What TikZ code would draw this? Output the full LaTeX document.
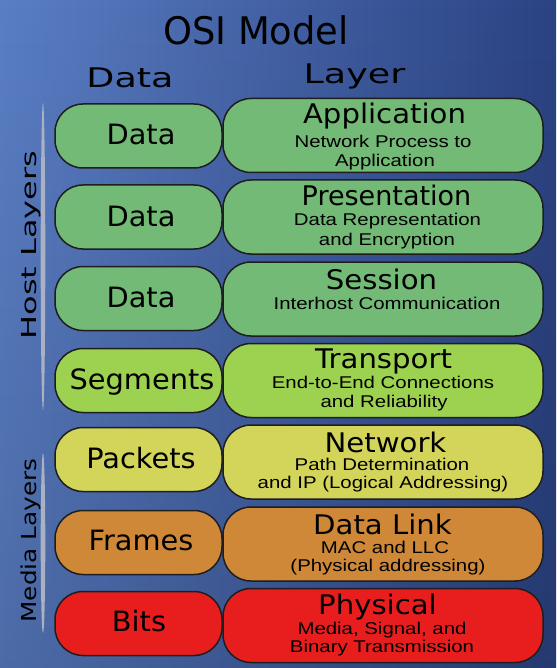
\documentclass[tikz,border=0pt]{standalone}
\usepackage{fontspec}
\setmainfont{DejaVu Sans}
\newfontfamily\titlefont[FakeStretch=0.97]{DejaVu Sans}
\newfontfamily\headfont[FakeStretch=1.35]{DejaVu Sans}
\newfontfamily\labelfont[FakeStretch=1.03]{DejaVu Sans}
\newfontfamily\layerfont[FakeStretch=1.08]{DejaVu Sans}
\newfontfamily\layerfontn{DejaVu Sans}
\newfontfamily\subfont[FakeStretch=1.2]{Liberation Sans}
\newfontfamily\hostfont[FakeStretch=1.55]{DejaVu Sans}
\newfontfamily\mediafont[FakeStretch=1.2]{DejaVu Sans}
\usetikzlibrary{fadings}
\definecolor{bgL}{HTML}{5A7EC4}
\definecolor{bgR}{HTML}{2B4383}
\definecolor{cgreen}{HTML}{72BA76}
\definecolor{ctrans}{HTML}{9DD150}
\definecolor{cnet}{HTML}{D3D45A}
\definecolor{clink}{HTML}{CF8838}
\definecolor{cphys}{HTML}{E81E1E}
\definecolor{cbar}{HTML}{A9B1C2}
\definecolor{cline}{HTML}{1E1E1E}
\tikzset{
  databox/.style={draw=cline, line width=1.5pt, rounded corners=28pt, minimum width=167pt, minimum height=64pt, inner sep=0pt},
  layerbox/.style={draw=cline, line width=1.5pt, rounded corners=28pt, minimum width=320pt, minimum height=74pt, inner sep=0pt},
  lbl/.style={anchor=base, inner sep=0pt, font=\labelfont\fontsize{28}{30}\selectfont, text=black},
  ttl/.style={anchor=base, inner sep=0pt, font=\layerfont\fontsize{27}{29}\selectfont, text=black},
  sub/.style={anchor=base, inner sep=0pt, font=\subfont\fontsize{17}{19}\selectfont, text=black},
  sidebar/.style={fill=cbar},
}
\begin{document}
\begin{tikzpicture}[x=1pt,y=-1pt]
\useasboundingbox (0,0) rectangle (556,668);
% background
\shade[left color=bgL, right color=bgR] (0,0) rectangle (556,668);
\fill[black, opacity=0.15, path fading=north] (0,0) rectangle (556,668);
% title and headers
\node[anchor=base, inner sep=0pt, font=\titlefont\fontsize{38}{40}\selectfont] (title) at (256,45) {OSI Model};
\node[anchor=base, inner sep=0pt, font=\headfont\fontsize{27}{29}\selectfont] (hdata) at (130,88) {Data};
\node[anchor=base, inner sep=0pt, font=\headfont\fontsize{27}{29}\selectfont] (hlayer) at (354.5,84) {Layer};
% side bars and labels
\fill[sidebar] (43,256.5) ellipse [x radius=2.3pt, y radius=153.5pt];
\fill[sidebar] (43,543) ellipse [x radius=2.3pt, y radius=90pt];
\node[anchor=base, inner sep=0pt, rotate=90, font=\hostfont\fontsize{20.6}{22}\selectfont] (host) at (36.5,245) {Host Layers};
\node[anchor=base, inner sep=0pt, rotate=90, font=\mediafont\fontsize{20.6}{22}\selectfont] (media) at (36.5,540.5) {Media Layers};
% left data boxes
\node[databox, fill=cgreen] (d1) at (138.5,136) {};
\node[databox, fill=cgreen] (d2) at (138.5,217) {};
\node[databox, fill=cgreen] (d3) at (138.5,298.5) {};
\node[databox, fill=ctrans] (d4) at (138.5,380.5) {};
\node[databox, fill=cnet] (d5) at (138.5,459.5) {};
\node[databox, fill=clink] (d6) at (138.5,542.5) {};
\node[databox, fill=cphys] (d7) at (138.5,623.5) {};
\node[lbl] (d1t) at (141,145) {Data};
\node[lbl] (d2t) at (141,226) {Data};
\node[lbl] (d3t) at (141,307) {Data};
\node[lbl] (d4t) at (142,389.5) {Segments};
\node[lbl] (d5t) at (141,468) {Packets};
\node[lbl] (d6t) at (141,550.5) {Frames};
\node[lbl] (d7t) at (139,631) {Bits};
% right layer boxes
\node[layerbox, fill=cgreen] (l1) at (383,135.5) {};
\node[layerbox, fill=cgreen] (l2) at (383,217) {};
\node[layerbox, fill=cgreen] (l3) at (383,299) {};
\node[layerbox, fill=ctrans] (l4) at (383,380.5) {};
\node[layerbox, fill=cnet] (l5) at (383,462) {};
\node[layerbox, fill=clink] (l6) at (383,544) {};
\node[layerbox, fill=cphys] (l7) at (383,625.5) {};
\node[ttl] (l1t) at (384.5,124) {Application};
\node[sub] (l1a) at (383,147.3) {Network Process to};
\node[sub] (l1b) at (385,166.7) {Application};
\node[ttl, font=\layerfontn\fontsize{27}{29}\selectfont] (l2t) at (386.5,205) {Presentation};
\node[sub] (l2a) at (387.5,225) {Data Representation};
\node[sub] (l2b) at (387,245) {and Encryption};
\node[ttl] (l3t) at (381.5,289.3) {Session};
\node[sub] (l3a) at (387,309) {Interhost Communication};
\node[ttl] (l4t) at (383.5,368.5) {Transport};
\node[sub] (l4a) at (383,388.5) {End-to-End Connections};
\node[sub] (l4b) at (384,407.5) {and Reliability};
\node[ttl] (l5t) at (385.5,452.5) {Network};
\node[sub] (l5a) at (382,470) {Path Determination};
\node[sub] (l5b) at (383,488.3) {and IP (Logical Addressing)};
\node[ttl] (l6t) at (382.5,534.5) {Data Link};
\node[sub] (l6a) at (385,553.3) {MAC and LLC};
\node[sub] (l6b) at (388,571.7) {(Physical addressing)};
\node[ttl] (l7t) at (377.5,614) {Physical};
\node[sub] (l7a) at (382,634) {Media, Signal, and};
\node[sub] (l7b) at (382,652.7) {Binary Transmission};
\end{tikzpicture}
\end{document}
